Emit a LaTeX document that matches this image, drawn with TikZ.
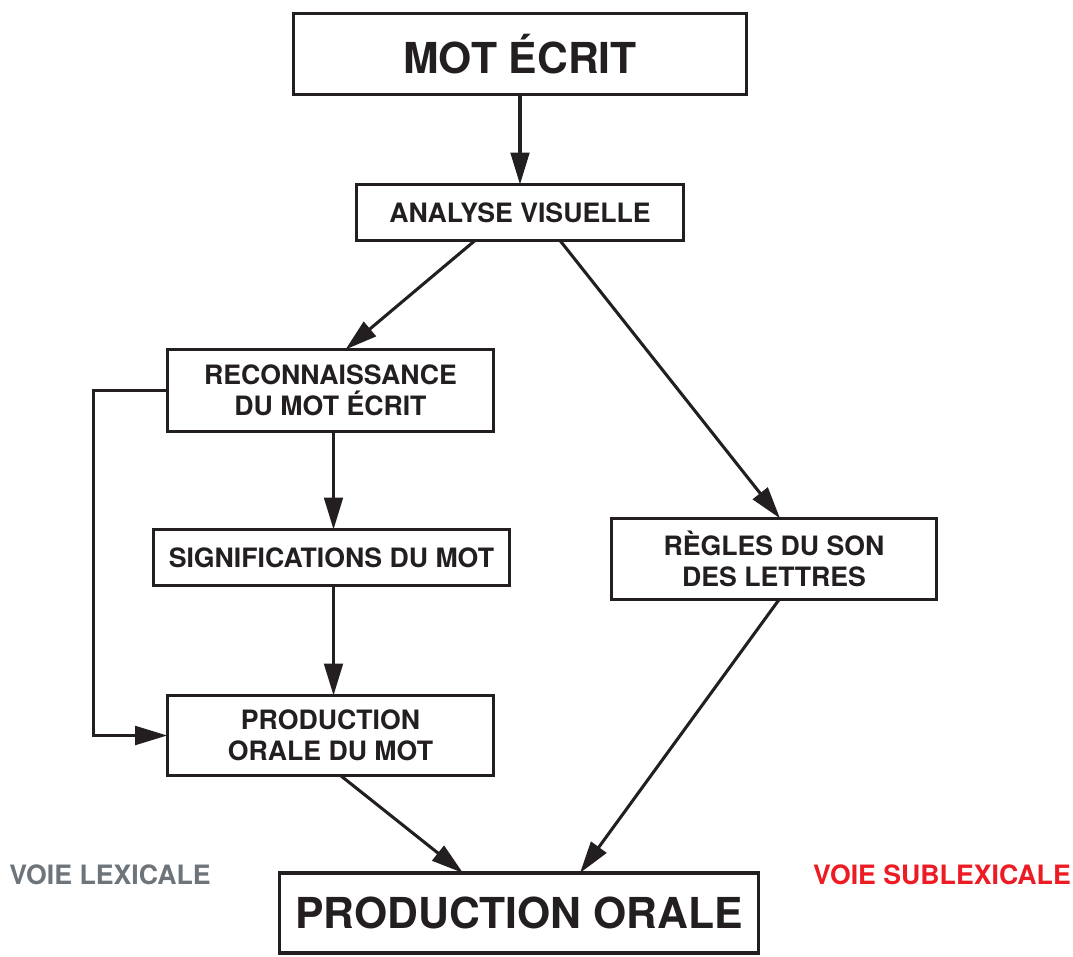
\documentclass[tikz,border=0pt]{standalone}
\usepackage{fontspec}
\setmainfont{TeX Gyre Heros}
\usetikzlibrary{arrows.meta,calc}
\definecolor{ink}{HTML}{231F20}
\definecolor{lexgray}{HTML}{6D747A}
\definecolor{sublred}{HTML}{ED1C24}
\tikzset{
  box/.style={draw=ink, line width=2.3pt, rectangle, inner sep=0pt, outer sep=0pt,
    align=center, text=ink, font=\bfseries\fontsize{20}{23}\selectfont},
  bigbox/.style={box, font=\bfseries\fontsize{32}{36}\selectfont},
  arr/.style={draw=ink, line width=2.3pt, -{Triangle[length=24pt,width=14pt]}},
  label/.style={inner sep=0pt, font=\bfseries\fontsize{20}{23}\selectfont}
}
\begin{document}
\begin{tikzpicture}[x=0.75pt,y=-0.75pt]
\useasboundingbox (0,0) rectangle (1073,956);
\node[bigbox, minimum width=340pt, minimum height=61pt] (mot) at (520,54) {MOT ÉCRIT};
\node[box, minimum width=245pt, minimum height=42pt] (analyse) at (520,212.5) {ANALYSE VISUELLE};
\node[box, minimum width=245pt, minimum height=61.5pt] (reco) at (330.5,390.5) {RECONNAISSANCE\\DU MOT ÉCRIT};
\node[box, minimum width=267pt, minimum height=42pt] (sig) at (331.5,557.5) {SIGNIFICATIONS DU MOT};
\node[box, minimum width=245pt, minimum height=60pt] (prodmot) at (330.5,735.5) {PRODUCTION\\ORALE DU MOT};
\node[box, minimum width=244pt, minimum height=61pt] (regles) at (774,559) {RÈGLES DU SON\\DES LETTRES};
\node[bigbox, minimum width=359pt, minimum height=60pt] (prod) at (519,913) {PRODUCTION ORALE};
\node[label, text=lexgray] (lex) at (110,875) {VOIE LEXICALE};
\node[label, text=sublred] (sublex) at (942,875) {VOIE SUBLEXICALE};

\draw[arr] (mot.south) -- (analyse.north);
\draw[arr] ($(analyse.south)+(-45,0)$) -- ($(reco.north)+(15,0)$);
\draw[arr] ($(analyse.south)+(40,0)$) -- ($(regles.north)+(6,0)$);
\draw[arr] ($(reco.south)+(3,0)$) -- ($(sig.north)+(2,0)$);
\draw[arr] ($(sig.south)+(2,0)$) -- ($(prodmot.north)+(3,0)$);
\draw[arr] (reco.west) -- ++(-74,0) |- (prodmot.west);
\draw[arr] ($(prodmot.south)+(10,0)$) -- ($(prod.north)+(-56,0)$);
\draw[arr] ($(regles.south)+(5,0)$) -- ($(prod.north)+(61,0)$);
\end{tikzpicture}
\end{document}
